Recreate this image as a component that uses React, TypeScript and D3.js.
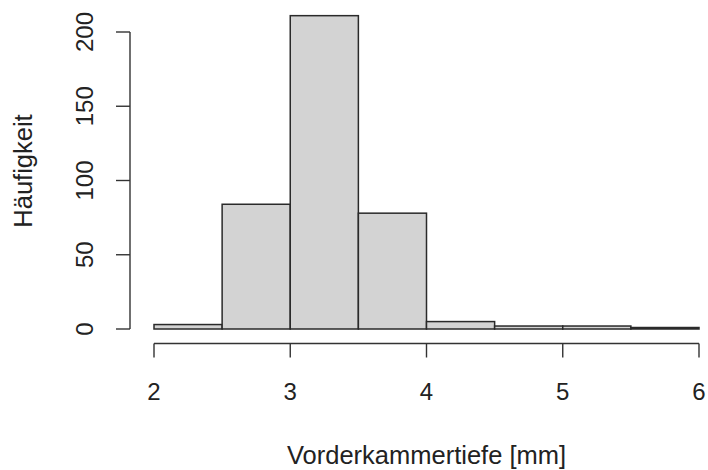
import * as d3 from "d3";
import React from "react";

// histogram bins (Vorderkammertiefe in mm) and their counts
const binEdges = [2, 2.5, 3, 3.5, 4, 4.5, 5, 5.5, 6];
const counts = [3, 84, 211, 78, 5, 2, 2, 1];
const xTicks = [2, 3, 4, 5, 6];
const yTicks = [0, 50, 100, 150, 200];
const xLabel = "Vorderkammertiefe [mm]";
const yLabel = "Häufigkeit";

const W = 708;
const H = 470;
const FONT = "'Liberation Sans', Arial, sans-serif";
const TEXT = "#222";

const App = (): React.ReactElement => {
  const x = d3.scaleLinear().domain([2, 6]).range([154, 699]);
  const y = d3.scaleLinear().domain([0, 200]).range([329, 32]);

  const bins = counts.map((c, i) => ({ x0: binEdges[i], x1: binEdges[i + 1], n: c }));

  const xAxisY = 343.5;
  const yAxisX = 130;

  return (
    <svg
      width={W}
      height={H}
      style={{ position: "absolute", left: 0, top: 0, background: "#fff" }}
      fontFamily={FONT}
    >
      {/* bars */}
      <g>
        {bins.map((b, i) => (
          <rect
            key={i}
            x={x(b.x0)}
            y={y(b.n)}
            width={x(b.x1) - x(b.x0)}
            height={y(0) - y(b.n)}
            fill="#d3d3d3"
            stroke="#2a2a2a"
            strokeWidth={1.5}
          />
        ))}
      </g>

      {/* x axis */}
      <g stroke="#333" strokeWidth={1.4} fill="none">
        <line x1={x(xTicks[0])} x2={x(xTicks[xTicks.length - 1])} y1={xAxisY} y2={xAxisY} />
        {xTicks.map((t) => (
          <line key={t} x1={x(t)} x2={x(t)} y1={xAxisY} y2={xAxisY + 14} />
        ))}
      </g>
      {xTicks.map((t) => (
        <text key={t} x={x(t)} y={400} textAnchor="middle" fontSize={24} fill={TEXT}>
          {t}
        </text>
      ))}
      <text x={(x(2) + x(6)) / 2} y={464} textAnchor="middle" fontSize={25.5} fill={TEXT}>
        {xLabel}
      </text>

      {/* y axis */}
      <g stroke="#333" strokeWidth={1.4} fill="none">
        <line x1={yAxisX} x2={yAxisX} y1={y(yTicks[0])} y2={y(yTicks[yTicks.length - 1])} />
        {yTicks.map((t) => (
          <line key={t} x1={yAxisX - 14} x2={yAxisX} y1={y(t)} y2={y(t)} />
        ))}
      </g>
      {yTicks.map((t) => (
        <text
          key={t}
          transform={`translate(93, ${y(t)}) rotate(-90)`}
          textAnchor="middle"
          fontSize={24}
          fill={TEXT}
        >
          {t}
        </text>
      ))}
      <text
        transform={`translate(32, 171) rotate(-90)`}
        textAnchor="middle"
        fontSize={25.5}
        fill={TEXT}
      >
        {yLabel}
      </text>
    </svg>
  );
};

export default App;
